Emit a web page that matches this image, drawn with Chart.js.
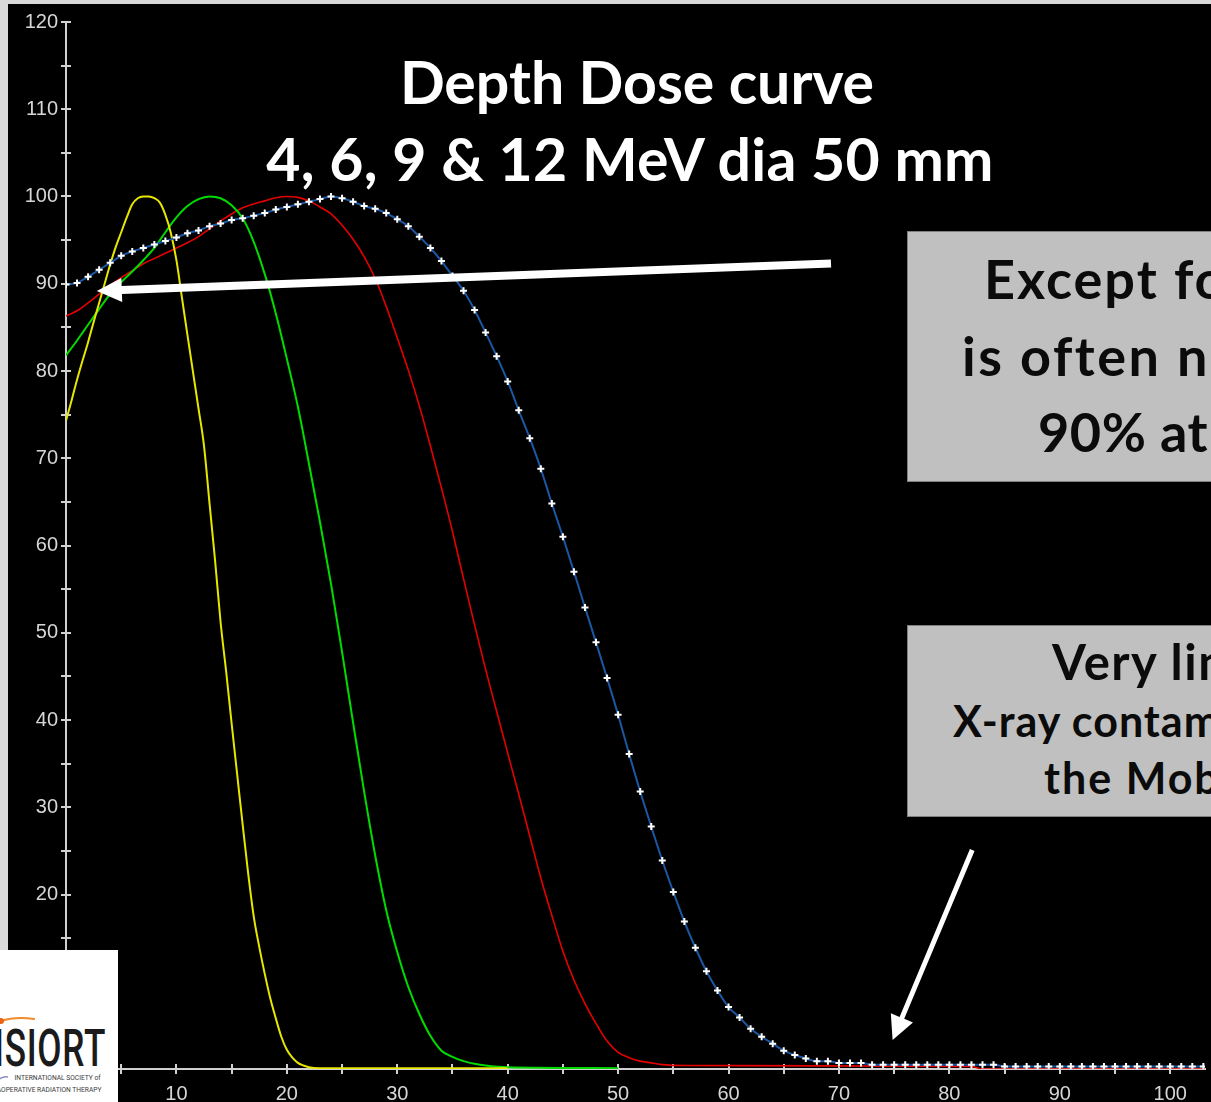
<!DOCTYPE html>
<html>
<head>
<meta charset="utf-8">
<title>Depth Dose curve</title>
<script src="https://cdn.jsdelivr.net/npm/chart.js@4.4.1/dist/chart.umd.min.js"></script>
<style>
  html, body { margin: 0; padding: 0; width: 1211px; height: 1102px; overflow: hidden; background: #d9d9d9; }
  #stage { position: relative; width: 1211px; height: 1102px; overflow: hidden; }
  #plotBg { position: absolute; left: 8px; top: 4px; right: 0; bottom: 0; background: #000; }
  #chart { position: absolute; left: 0; top: 0; }
  .line { position: absolute; white-space: nowrap; font-family: Lato, "Open Sans", sans-serif; font-weight: 700; }
  .title { color: #fff; font-size: 59px; line-height: 59px; text-align: center; }
  .box { position: absolute; background: #c0c0c0; border: 1px solid #7f7f7f; }
  .boxText { color: #0b0b0b; }
  #logo { position: absolute; left: 0; top: 950px; width: 118px; height: 152px; background: #fff; overflow: hidden; }
  #logo .name { position: absolute; left: -6px; top: 73px; font-family: Roboto, sans-serif; font-weight: 500; font-size: 51px; line-height: 51px; color: #1b1b1b; transform: scaleX(0.69); transform-origin: left top; letter-spacing: 1px; }
  #logo .small { position: absolute; right: 17px; font-family: Roboto, sans-serif; font-size: 7px; line-height: 8px; color: #3a3a3a; white-space: nowrap; transform: scaleX(0.95); transform-origin: right top; }
</style>
</head>
<body>
<div id="stage">
  <div id="plotBg"></div>
  <canvas id="chart" width="1211" height="1102"></canvas>

  <div class="line title" style="left:0; width:1274px; top:52px;">Depth Dose curve</div>
  <div class="line title" style="left:0; width:1260px; top:129px; letter-spacing:0.2px;">4, 6, 9 &amp; 12 MeV dia 50 mm</div>

  <div class="box" style="left:907px; top:231px; width:420px; height:249px;"></div>
  <div class="line boxText" style="left:984px; top:252px; font-size:54px; line-height:54px; letter-spacing:2px;">Except for 4 MeV</div>
  <div class="line boxText" style="left:962px; top:329px; font-size:54px; line-height:54px; letter-spacing:2.5px;">is often near</div>
  <div class="line boxText" style="left:1038px; top:405px; font-size:54px; line-height:54px; letter-spacing:0.5px;">90% at surface</div>

  <div class="box" style="left:907px; top:625px; width:420px; height:190px;"></div>
  <div class="line boxText" style="left:1052px; top:637px; font-size:49px; line-height:49px; letter-spacing:1.5px;">Very limited</div>
  <div class="line boxText" style="left:953px; top:699px; font-size:43px; line-height:43px; letter-spacing:1px;">X-ray contamination with</div>
  <div class="line boxText" style="left:1044px; top:756px; font-size:43px; line-height:43px; letter-spacing:2px;">the Mobetron</div>

  <div id="logo">
    <svg width="118" height="152" style="position:absolute;left:0;top:0">
      <path d="M -2 72 Q 14 66 34 69" fill="none" stroke="#f08a2a" stroke-width="2.2" stroke-linecap="round"/>
      <circle cx="1" cy="71" r="3" fill="#e8641a"/>
      <path d="M -2 130 Q 3 126 8 127" fill="none" stroke="#8a8ac8" stroke-width="1.5"/>
    </svg>
    <div class="name">ISIORT</div>
    <div class="small" style="top:124px;">INTERNATIONAL SOCIETY of</div>
    <div class="small" style="top:136px;">INTRAOPERATIVE RADIATION THERAPY</div>
  </div>
</div>

<script>
// Depth (mm) and relative dose (%) for each electron energy, 50 mm applicator
const depth4 = [0, 0.5, 1, 1.5, 2, 2.5, 3, 3.5, 4, 4.5, 5, 5.5, 6, 6.5, 7, 7.5, 8, 8.5, 9, 9.5,
  10, 10.5, 11, 11.5, 12, 12.5, 13, 13.5, 14, 14.5, 15, 15.5, 16, 16.5, 17, 17.5, 18, 18.5, 19, 19.5,
  20, 20.5, 21, 21.5, 22, 23, 30, 40];
const dose4 = [74.3, 76.6, 79.0, 81.2, 83.3, 85.6, 87.8, 90.0, 92.2, 94.2, 95.9, 97.6, 99.1, 99.8, 100, 100, 99.8, 99.3, 97.9, 95.8,
  92.7, 88.4, 84.1, 79.9, 75.7, 71.4, 64.8, 58.3, 51.2, 45.6, 39.6, 33.8, 28.0, 22.4, 17.5, 14.0, 10.9, 8.1, 5.8, 3.7,
  2.2, 1.3, 0.7, 0.4, 0.2, 0.1, 0.1, 0.1];

const depth6 = [0, 1, 2, 3, 4, 5, 6, 7, 8, 9, 10, 11, 12, 13, 14, 15, 16, 17, 18, 19,
  20, 21, 22, 23, 24, 25, 26, 27, 28, 29, 30, 31, 32, 33, 34, 35, 36, 37, 38, 40, 50];
const dose6 = [81.8, 83.5, 85.3, 87.1, 88.8, 90.2, 91.4, 92.7, 94.1, 95.9, 97.6, 98.9, 99.7, 100, 99.8, 99.0, 97.5, 94.8, 91.1, 86.6,
  81.4, 75.9, 69.4, 62.7, 55.6, 47.8, 39.7, 31.8, 24.5, 18.2, 13.4, 9.4, 6.3, 3.8, 2.1, 1.4, 0.9, 0.6, 0.4, 0.2, 0.1];

const depth9 = [0, 1, 2, 3, 4, 5, 6, 7, 8, 9, 10, 11, 12, 13, 14, 15, 16, 17, 18, 19,
  20, 21, 22, 23, 24, 25, 26, 27, 28, 29, 30, 31, 32, 33, 34, 35, 36, 37, 38, 39,
  40, 41, 42, 43, 44, 45, 46, 47, 48, 49, 50, 51, 52, 53, 54, 56, 82, 83, 104];
const dose9 = [86.3, 86.9, 87.8, 88.8, 89.8, 90.7, 91.5, 92.3, 92.9, 93.5, 94.1, 94.7, 95.4, 96.3, 97.2, 98.0, 98.7, 99.15, 99.5, 99.85,
  100, 99.9, 99.5, 98.8, 98.0, 96.7, 95.1, 93.1, 90.6, 87.4, 83.8, 80.1, 76.0, 71.4, 66.6, 61.6, 56.2, 50.9, 45.8, 41.0,
  36.2, 31.5, 26.7, 21.9, 17.6, 13.5, 10.2, 7.5, 5.2, 3.2, 1.9, 1.3, 0.9, 0.7, 0.5, 0.4, 0.3, 0, 0];

const depth12 = [0, 1, 2, 3, 4, 5, 6, 7, 8, 9, 10, 11, 12, 13, 14, 15, 16, 17, 18, 19,
  20, 21, 22, 23, 24, 25, 26, 27, 28, 29, 30, 31, 32, 33, 34, 35, 36, 37, 38, 39,
  40, 41, 42, 43, 44, 45, 46, 47, 48, 49, 50, 51, 52, 53, 54, 55, 56, 57, 58, 59,
  60, 61, 62, 63, 64, 65, 66, 67, 68, 69, 70, 71, 72, 73, 74, 75, 76, 77, 78, 79,
  80, 81, 82, 83, 84, 85, 86, 87, 88, 89, 90, 91, 92, 93, 94, 95, 96, 97, 98, 99,
  100, 101, 102, 103, 104];
const dose12 = [89.9, 90.1, 90.8, 91.6, 92.4, 93.2, 93.7, 94.1, 94.5, 94.9, 95.3, 95.8, 96.1, 96.6, 96.9, 97.3, 97.5, 97.8, 98.1, 98.5,
  98.8, 99.1, 99.4, 99.7, 100, 99.8, 99.4, 98.9, 98.6, 98.1, 97.4, 96.6, 95.4, 94.1, 92.6, 90.9, 89.2, 87.0, 84.4, 81.7,
  78.8, 75.5, 72.3, 68.8, 64.8, 61.0, 57.0, 52.9, 48.9, 44.8, 40.6, 36.1, 31.8, 27.8, 23.9, 20.3, 16.9, 13.9, 11.2, 9.0,
  7.1, 5.9, 4.6, 3.7, 2.9, 2.1, 1.6, 1.2, 0.9, 0.9, 0.7, 0.7, 0.7, 0.5, 0.5, 0.5, 0.5, 0.5, 0.5, 0.5,
  0.5, 0.5, 0.5, 0.5, 0.5, 0.3, 0.3, 0.3, 0.3, 0.3, 0.3, 0.3, 0.3, 0.3, 0.3, 0.3, 0.3, 0.3, 0.3, 0.3,
  0.3, 0.3, 0.3, 0.3, 0.3];

// Axis ranges (mm / %)
const depthMax = 103.15;
const doseMax = 120;
const tickStep = 5;

// Annotation arrows, in data units: [depth, dose]
const surfaceArrow = { from: [69.28, 92.32], to: [2.79, 89.17], shaft: 8, head: 25, half: 12 };
const tailArrow = { from: [82.07, 25.1], to: [74.86, 3.32], shaft: 5, head: 24, half: 12 };

const axisColor = "#d0d0d0";
const labelColor = "#d6d6d6";
const tickFont = { family: "'Liberation Sans', Arial, sans-serif", size: 20 };

const toPoints = (xs, ys) => xs.map((x, i) => ({ x, y: ys[i] }));

/* ---------------------------------------------------------
   Ticks that cross the axis line on both sides
--------------------------------------------------------- */
const crossTicks = {
  id: "crossTicks",
  beforeDatasetsDraw(chart) {
    const { ctx, chartArea, scales } = chart;
    ctx.save();
    ctx.strokeStyle = axisColor;
    ctx.lineWidth = 2;
    ctx.beginPath();
    scales.x.ticks.forEach((t) => {
      const px = Math.round(scales.x.getPixelForValue(t.value));
      ctx.moveTo(px, chartArea.bottom - 5);
      ctx.lineTo(px, chartArea.bottom + 5);
    });
    scales.y.ticks.forEach((t) => {
      const py = Math.round(scales.y.getPixelForValue(t.value));
      ctx.moveTo(chartArea.left - 5, py);
      ctx.lineTo(chartArea.left + 5, py);
    });
    ctx.stroke();
    ctx.restore();
  },
};

/* ---------------------------------------------------------
   White arrows
--------------------------------------------------------- */
const arrowPlugin = {
  id: "arrows",
  afterDatasetsDraw(chart) {
    const { ctx, scales } = chart;
    [surfaceArrow, tailArrow].forEach((a) => {
      const x1 = scales.x.getPixelForValue(a.from[0]);
      const y1 = scales.y.getPixelForValue(a.from[1]);
      const x2 = scales.x.getPixelForValue(a.to[0]);
      const y2 = scales.y.getPixelForValue(a.to[1]);
      const len = Math.hypot(x2 - x1, y2 - y1);
      const ux = (x2 - x1) / len, uy = (y2 - y1) / len;
      const nx = -uy, ny = ux;
      const bx = x2 - ux * a.head, by = y2 - uy * a.head;
      const w = a.shaft / 2;
      ctx.save();
      ctx.fillStyle = "#ffffff";
      ctx.beginPath();
      ctx.moveTo(x1 + nx * w, y1 + ny * w);
      ctx.lineTo(bx + nx * w, by + ny * w);
      ctx.lineTo(bx + nx * a.half, by + ny * a.half);
      ctx.lineTo(x2, y2);
      ctx.lineTo(bx - nx * a.half, by - ny * a.half);
      ctx.lineTo(bx - nx * w, by - ny * w);
      ctx.lineTo(x1 - nx * w, y1 - ny * w);
      ctx.closePath();
      ctx.fill();
      ctx.restore();
    });
  },
};

new Chart(document.getElementById("chart"), {
  type: "line",
  data: {
    datasets: [
      {
        label: "12 MeV",
        data: toPoints(depth12, dose12),
        borderColor: "#1c57a3",
        borderWidth: 2,
        pointStyle: "cross",
        pointRadius: 3.5,
        pointBorderColor: "#ffffff",
        pointBackgroundColor: "#ffffff",
        pointBorderWidth: 2,
      },
      {
        label: "4 MeV",
        data: toPoints(depth4, dose4),
        borderColor: "#e6e600",
        borderWidth: 2,
        pointRadius: 0,
      },
      {
        label: "6 MeV",
        data: toPoints(depth6, dose6),
        borderColor: "#00dc00",
        borderWidth: 2,
        pointRadius: 0,
      },
      {
        label: "9 MeV",
        data: toPoints(depth9, dose9),
        borderColor: "#e60000",
        borderWidth: 1.6,
        pointRadius: 0,
      },
    ],
  },
  options: {
    responsive: false,
    animation: false,
    events: [],
    cubicInterpolationMode: "monotone",
    layout: { padding: { left: 8, top: 22, right: 0, bottom: 0 } },
    plugins: { legend: { display: false }, tooltip: { enabled: false } },
    scales: {
      x: {
        type: "linear",
        min: 0,
        max: depthMax,
        grid: { display: false, drawTicks: false },
        border: { display: true, color: axisColor, width: 2 },
        ticks: {
          stepSize: tickStep,
          includeBounds: false,
          autoSkip: false,
          maxRotation: 0,
          padding: 13,
          color: labelColor,
          font: tickFont,
          callback: (v) => (v % 10 === 0 ? v : ""),
        },
        afterFit: (s) => { s.height = 33; },
      },
      y: {
        type: "linear",
        min: 0,
        max: doseMax,
        grid: { display: false, drawTicks: false },
        border: { display: true, color: axisColor, width: 2 },
        ticks: {
          stepSize: tickStep,
          includeBounds: false,
          autoSkip: false,
          padding: 8,
          color: labelColor,
          font: tickFont,
          callback: (v) => (v % 10 === 0 ? v : ""),
        },
        afterFit: (s) => { s.width = 58; },
      },
    },
  },
  plugins: [crossTicks, arrowPlugin],
});
</script>
</body>
</html>
